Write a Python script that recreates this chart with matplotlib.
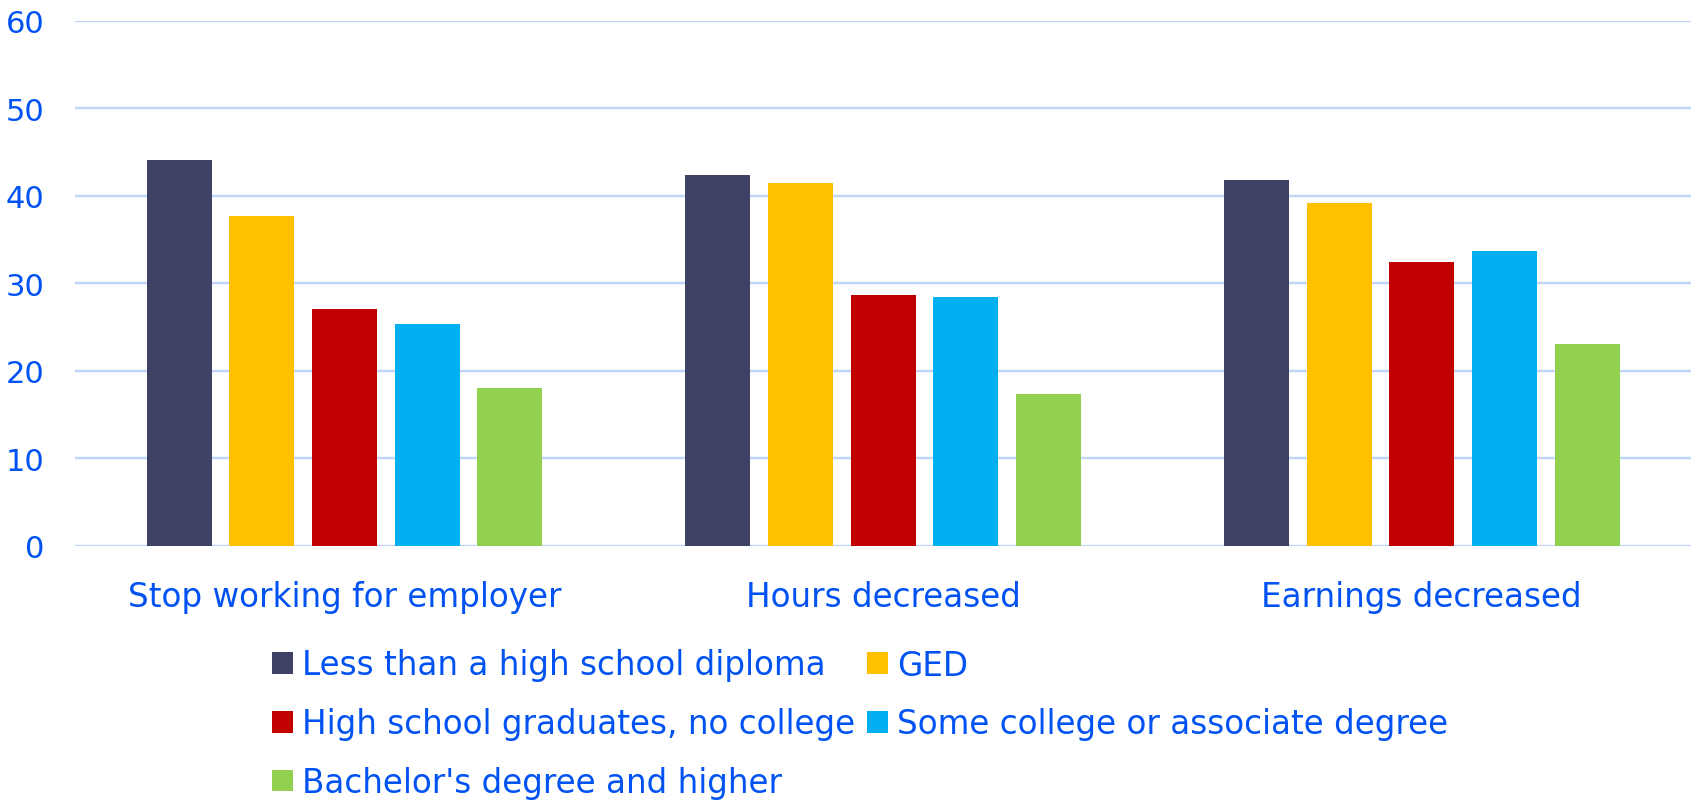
import matplotlib
matplotlib.use("Agg")
import matplotlib.pyplot as plt
import numpy as np

categories = ["Stop working for employer", "Hours decreased", "Earnings decreased"]
series_names = ["Less than a high school diploma", "GED",
                "High school graduates, no college",
                "Some college or associate degree",
                "Bachelor's degree and higher"]
less_than_hs = [44.1, 42.4, 41.8]
ged = [37.7, 41.5, 39.2]
hs_grad = [27.1, 28.7, 32.4]
some_college = [25.4, 28.4, 33.7]
bachelors = [18.0, 17.4, 23.1]
yticks = [0, 10, 20, 30, 40, 50, 60]

series_values = [less_than_hs, ged, hs_grad, some_college, bachelors]
colors = ["#3E4066", "#FFC000", "#C00000", "#00B0F0", "#92D050"]
text_color = "#0052F2"
grid_color = "#BFD4F6"

plt.rcParams['font.family'] = ['DejaVu Sans']

W, H = 1696, 804
fig = plt.figure(figsize=(W / 100, H / 100), dpi=100)
ax = fig.add_axes([75.3 / W, 1 - 546.7 / H, (1691 - 75.3) / W, (546.7 - 22) / H])

x = np.arange(len(categories))
bw = 0.1207
step = 0.1535
handles = []
for i, (vals, col) in enumerate(zip(series_values, colors)):
    b = ax.bar(x + (i - 2) * step, vals, width=bw, color=col, zorder=3,
               label=series_names[i])
    handles.append(b)

ax.set_xlim(-0.5, len(categories) - 0.5)
ax.set_ylim(0, 60)
ax.set_yticks(yticks)
ax.set_yticklabels([str(t) for t in yticks])
ax.set_xticks(x)
ax.set_xticklabels(categories)
ax.yaxis.grid(True, color=grid_color, linewidth=1.7, zorder=0)
ax.set_axisbelow(True)
for s in ax.spines.values():
    s.set_visible(False)
ax.tick_params(axis='both', length=0)
ax.tick_params(axis='y', labelsize=22, labelcolor=text_color, pad=22)
ax.tick_params(axis='x', labelsize=23.5, labelcolor=text_color, pad=25)

order = [0, 2, 4, 1, 3]
leg = fig.legend([handles[k] for k in order], [series_names[k] for k in order],
                 loc='upper left', bbox_to_anchor=(272 / W, 1 - 649.5 / H),
                 ncol=2, frameon=False, fontsize=23.5,
                 handlelength=0.64, handleheight=0.64, handletextpad=0.28,
                 columnspacing=0.37, labelspacing=0.79,
                 borderpad=0, borderaxespad=0)
for t in leg.get_texts():
    t.set_color(text_color)

fig.savefig("out.png", dpi=100)
